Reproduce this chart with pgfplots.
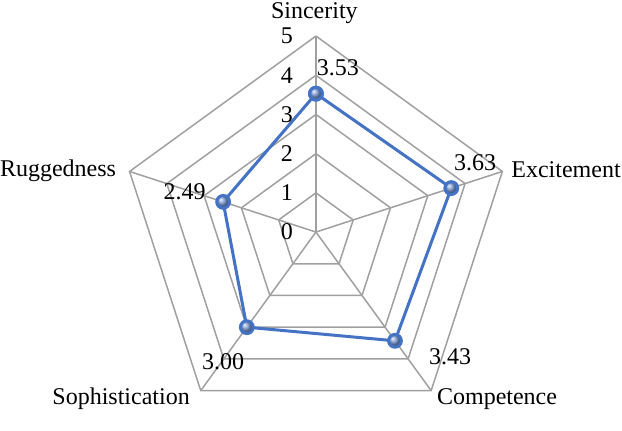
\documentclass[border=0pt]{standalone}
\usepackage{pgfplots}
\pgfplotsset{compat=1.18}
\usepackage{fontspec}
\setmainfont{Liberation Serif}
\definecolor{serie}{RGB}{68,114,196}
\definecolor{gridc}{RGB}{160,160,160}
\begin{document}
\begin{tikzpicture}
\begin{axis}[
  at={(0,0)}, anchor=south west,
  x=19.6pt, y=19.6pt,
  xmin=-8.06, xmax=7.81, ymin=-5.05, ymax=5.92,
  hide axis, clip=false,
  every axis plot/.append style={data cs=polar},
]
% pentagon grid
\foreach \r in {1,2,3,4,5}{
  \edef\temp{\noexpand\addplot[gridc, line width=0.75pt] coordinates {(90,\r)(18,\r)(-54,\r)(-126,\r)(162,\r)(90,\r)};}
  \temp
}
% spokes
\foreach \a in {90,18,-54,-126,162}{
  \edef\temp{\noexpand\addplot[gridc, line width=0.75pt] coordinates {(\a,0)(\a,5)};}
  \temp
}
% data
\addplot[serie, line width=1.5pt, mark=ball, mark size=3.2pt,
  mark options={ball color=serie!70!white}]
  coordinates {(90,3.53)(18,3.63)(-54,3.43)(-126,3.00)(162,2.49)(90,3.53)};
\end{axis}
\begin{scope}[font=\fontsize{12}{14}\selectfont, x=19.6pt, y=19.6pt, shift={(8.06*19.6pt,5.05*19.6pt)}]
% category labels
\node at (-0.04,5.59) {Sincerity};
\node at (6.38,1.58) {Excitement};
\node at (4.62,-4.26) {Competence};
\node at (-4.97,-4.26) {Sophistication};
\node at (-6.58,1.56) {Ruggedness};
% scale labels
\foreach \r in {0,...,5}{ \node at (-0.74,\r) {\r}; }
% value labels
\node at (0.56,4.18) {3.53};
\node at (4.06,1.76) {3.63};
\node at (3.42,-3.19) {3.43};
\node at (-2.37,-3.32) {3.00};
\node at (-3.35,1.02) {2.49};
\end{scope}
\pgfresetboundingbox
\path[use as bounding box] (0,0) rectangle (311pt,215pt);
\end{tikzpicture}
\end{document}
